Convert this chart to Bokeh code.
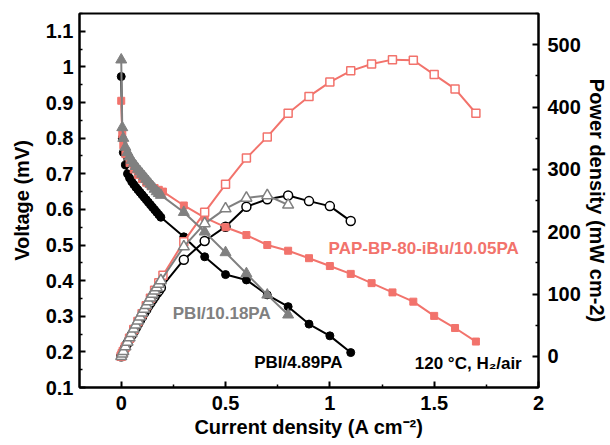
from bokeh.plotting import figure
from bokeh.models import Range1d, LinearAxis, FixedTicker, CustomJSTickFormatter, Label
from bokeh.embed import file_html
from bokeh.resources import INLINE

# ---------------- data ----------------
# PAP-BP-80-iBu/10.05PA
pap_i = [0, 0.005, 0.01, 0.02, 0.04, 0.06, 0.08, 0.10, 0.12, 0.14, 0.16, 0.18, 0.2,
         0.3, 0.4, 0.5, 0.6, 0.7, 0.8, 0.9, 1.0, 1.1, 1.2, 1.3, 1.4, 1.5, 1.6, 1.7]
pap_v = [0.905, 0.81, 0.78, 0.755, 0.73, 0.712, 0.697, 0.685, 0.675, 0.667, 0.66, 0.655, 0.65,
         0.611, 0.577, 0.55, 0.528, 0.50, 0.484, 0.463, 0.441, 0.419, 0.393, 0.367, 0.341, 0.301, 0.267, 0.229]
pap_p = [0, 4, 7.8, 15, 29, 43, 56, 68.5, 81, 93, 106, 118, 130,
         184, 231, 276, 318, 352, 390, 417, 440, 458, 469, 476, 475, 452, 429, 390]

# PBI/4.89PA
pbi489_i = [0, 0.005, 0.01, 0.02, 0.03, 0.04, 0.05, 0.06, 0.07, 0.08, 0.09, 0.10, 0.11, 0.12,
            0.13, 0.14, 0.15, 0.16, 0.17, 0.18, 0.19, 0.3, 0.4, 0.5, 0.6, 0.7, 0.8, 0.9, 1.0, 1.1]
pbi489_v = [0.973, 0.80, 0.76, 0.725, 0.70, 0.688, 0.678, 0.67, 0.662, 0.655, 0.648, 0.641, 0.634, 0.627,
            0.620, 0.613, 0.606, 0.599, 0.592, 0.585, 0.578, 0.523, 0.467, 0.417, 0.402, 0.36, 0.327, 0.278, 0.245, 0.198]
pbi489_p = [0, 4, 7.6, 14.5, 21, 27.5, 34, 40, 46, 52, 58, 64, 70, 75,
            81, 86, 91, 96, 101, 105, 110, 155, 185, 208, 240, 252, 258, 249, 241, 217]

# PBI/10.18PA
pbi1018_i = [0, 0.005, 0.01, 0.02, 0.03, 0.04, 0.05, 0.06, 0.07, 0.08, 0.09, 0.10, 0.11, 0.12,
             0.13, 0.14, 0.15, 0.16, 0.17, 0.18, 0.19, 0.3, 0.4, 0.5, 0.6, 0.7, 0.8]
pbi1018_v = [1.02, 0.83, 0.80, 0.775, 0.76, 0.748, 0.738, 0.729, 0.721, 0.713, 0.706, 0.699, 0.692, 0.685,
             0.678, 0.671, 0.664, 0.657, 0.650, 0.645, 0.640, 0.592, 0.537, 0.479, 0.42, 0.36, 0.304]
pbi1018_p = [0, 4, 8, 15.5, 23, 30, 37, 44, 50.5, 57, 63.5, 70, 76, 82,
             88, 94, 100, 105, 110.5, 116, 121.6, 176, 213, 237, 254, 258, 243]

x_ticks = [0, 0.5, 1, 1.5, 2]
x_minor = [0.25, 0.75, 1.25, 1.75]
v_ticks = [0.1, 0.2, 0.3, 0.4, 0.5, 0.6, 0.7, 0.8, 0.9, 1.0, 1.1]
v_minor = [0.15, 0.25, 0.35, 0.45, 0.55, 0.65, 0.75, 0.85, 0.95, 1.05, 1.15]
p_ticks = [0, 100, 200, 300, 400, 500]
p_minor = [-50, 50, 150, 250, 350, 450, 550]

RED = "#F2736C"
GRAY = "#808080"
BLACK = "#000000"
FONT = "Liberation Sans"

# ---------------- figure ----------------
p = figure(width=610, height=445, x_range=Range1d(-0.2, 2.0), y_range=Range1d(0.1, 1.15),
           output_backend="svg", toolbar_location=None,
           min_border_left=79, min_border_right=68, min_border_top=13, min_border_bottom=58)
p.extra_y_ranges = {"power": Range1d(-50, 550)}
p.grid.visible = False
p.outline_line_color = "black"
p.outline_line_width = 2
p.background_fill_color = "white"
p.border_fill_color = "white"

fmt = CustomJSTickFormatter(code="return String(Number(tick.toFixed(2)));")

p.xaxis.ticker = FixedTicker(ticks=x_ticks, minor_ticks=x_minor)
p.yaxis.ticker = FixedTicker(ticks=v_ticks, minor_ticks=v_minor)
p.xaxis.formatter = fmt
p.yaxis.formatter = fmt
p.xaxis.axis_label = "Current density (A cm\u207b\u00b2)"
p.yaxis.axis_label = "Voltage (mV)"

ax2 = LinearAxis(y_range_name="power", axis_label="Power density (mW cm-2)",
                 ticker=FixedTicker(ticks=p_ticks, minor_ticks=p_minor))
p.add_layout(ax2, "right")

for ax in [p.xaxis[0], p.yaxis[0], ax2]:
    ax.axis_line_width = 2
    ax.axis_line_color = "black"
    ax.major_tick_line_width = 2
    ax.minor_tick_line_width = 1.5
    ax.major_tick_in = 6
    ax.major_tick_out = 0
    ax.minor_tick_in = 3
    ax.minor_tick_out = 0
    ax.major_label_text_font = FONT
    ax.major_label_text_font_style = "bold"
    ax.major_label_text_font_size = "20px"
    ax.major_label_text_color = "black"
    ax.axis_label_text_font = FONT
    ax.axis_label_text_font_style = "bold"
    ax.axis_label_text_font_size = "20px"
    ax.axis_label_text_color = "black"

p.xaxis.major_label_standoff = 8
p.xaxis.axis_label_standoff = 3
p.yaxis.major_label_standoff = 6
p.yaxis.axis_label_standoff = 10
ax2.major_label_standoff = 9
ax2.axis_label_standoff = 2

# ---------------- series ----------------
# PBI/4.89PA (black)
p.line(pbi489_i, pbi489_v, line_color=BLACK, line_width=2)
p.scatter(pbi489_i, pbi489_v, marker="circle", size=8, fill_color=BLACK, line_color=BLACK)
p.line(pbi489_i, pbi489_p, line_color=BLACK, line_width=2, y_range_name="power")
p.scatter(pbi489_i, pbi489_p, marker="circle", size=9, fill_color="white", line_color=BLACK,
          line_width=1.5, y_range_name="power")

# PAP-BP-80-iBu/10.05PA (red)
p.line(pap_i, pap_v, line_color=RED, line_width=2)
p.scatter(pap_i, pap_v, marker="square", size=7, fill_color=RED, line_color=RED)
p.line(pap_i, pap_p, line_color=RED, line_width=2, y_range_name="power")
p.scatter(pap_i, pap_p, marker="square", size=8, fill_color="white", line_color=RED,
          line_width=1.5, y_range_name="power")

# PBI/10.18PA (gray)
p.line(pbi1018_i, pbi1018_v, line_color=GRAY, line_width=2)
p.scatter(pbi1018_i, pbi1018_v, marker="triangle", size=11, fill_color=GRAY, line_color=GRAY)
p.line(pbi1018_i, pbi1018_p, line_color=GRAY, line_width=2, y_range_name="power")
p.scatter(pbi1018_i, pbi1018_p, marker="triangle", size=11, fill_color="white", line_color=GRAY,
          line_width=1.5, y_range_name="power")

# ---------------- annotations ----------------
def lab(x, y, text, color):
    p.add_layout(Label(x=x, y=y, text=text, text_color=color, text_font=FONT,
                       text_font_style="bold", text_font_size="17px",
                       text_align="left", text_baseline="middle"))

lab(0.994, 0.49, "PAP-BP-80-iBu/10.05PA", RED)
lab(0.247, 0.307, "PBI/10.18PA", GRAY)
lab(0.637, 0.169, "PBI/4.89PA", BLACK)
lab(1.407, 0.166, "120 \u00b0C, H\u2082/air", BLACK)

open("out.html", "w").write(file_html(p, INLINE))
